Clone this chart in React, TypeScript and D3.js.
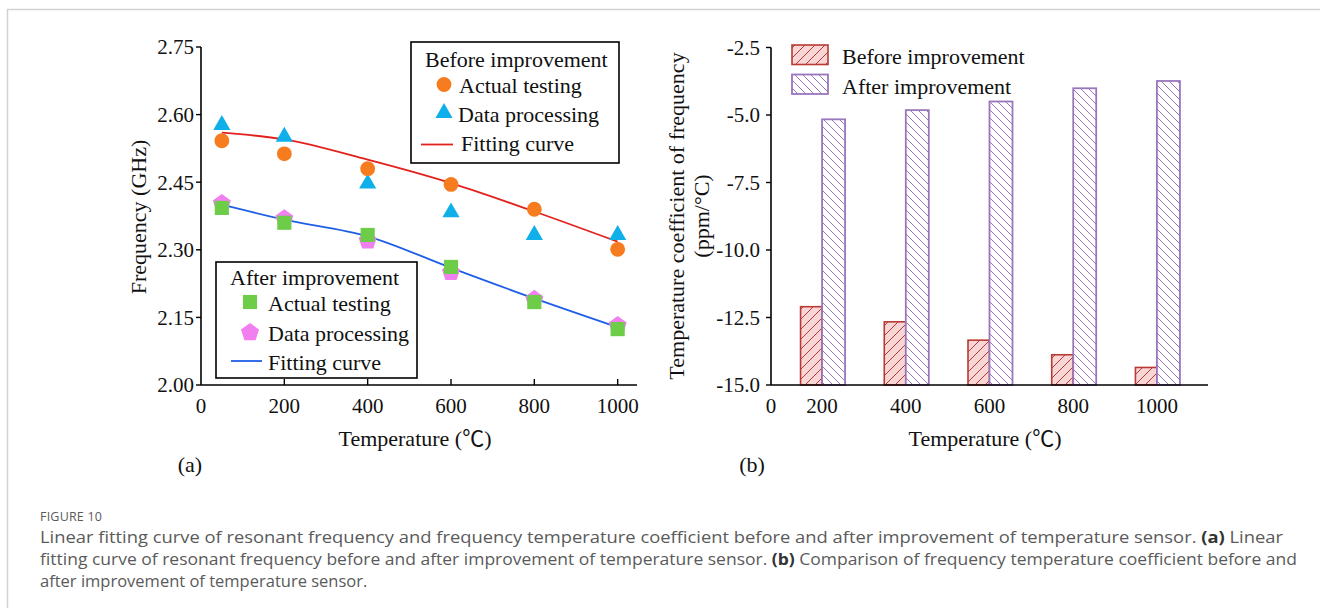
import React from 'react';
import * as d3 from 'd3';

// panel (a): resonant frequency vs temperature
const temps = [50, 200, 400, 600, 800, 1000];
const beforeActual = [2.542, 2.513, 2.48, 2.445, 2.39, 2.301];
const beforeProcessed = [2.577, 2.551, 2.447, 2.383, 2.333, 2.333];
const beforeFit = [2.56, 2.545, 2.5, 2.448, 2.385, 2.318];
const afterActual = [2.393, 2.36, 2.333, 2.262, 2.184, 2.124];
const afterProcessed = [2.403, 2.369, 2.32, 2.25, 2.19, 2.132];
const afterFit = [2.4, 2.367, 2.33, 2.26, 2.192, 2.128];
const freqTicks = [2.0, 2.15, 2.3, 2.45, 2.6, 2.75];
const tempTicks = [0, 200, 400, 600, 800, 1000];

// panel (b): temperature coefficient of frequency
const barTemps = ['200', '400', '600', '800', '1000'];
const tcfBefore = [-12.1, -12.66, -13.34, -13.88, -14.35];
const tcfAfter = [-5.16, -4.82, -4.5, -4.01, -3.74];
const tcfTicks = [-15, -12.5, -10, -7.5, -5, -2.5];

const SERIF = '"Liberation Serif", "Times New Roman", "Noto Sans CJK SC", serif';
const SANS = '"Open Sans", "Noto Sans", sans-serif';

const C = {
  orange: '#f77b1f',
  cyan: '#0fb0ea',
  green: '#6dcc48',
  pink: '#f27ff0',
  red: '#e3211c',
  blue: '#1f5fe8',
  barRed: '#b93a35',
  barRedFill: '#f9d6d6',
  barPurple: '#9a76bd',
};

const circlePath = d3.symbol(d3.symbolCircle, 172)()!;
const trianglePath = d3.symbol(d3.symbolTriangle, 128)()!;
const squarePath = d3.symbol(d3.symbolSquare, 200)()!;
const pentagonPath = (() => {
  const r = 9.5;
  const pts = d3.range(5).map((i) => {
    const a = -Math.PI / 2 + (i * 2 * Math.PI) / 5;
    return [r * Math.cos(a), r * Math.sin(a)] as [number, number];
  });
  return 'M' + pts.map((p) => p.join(',')).join('L') + 'Z';
})();

export default function App() {
  const xA = d3.scaleLinear().domain([0, 1050]).range([201, 638.5]);
  const yA = d3.scaleLinear().domain([2, 2.75]).range([385, 47]);
  const xB = d3.scalePoint<string>().domain(barTemps).range([771, 1208]).padding(0.61);
  const yB = d3.scaleLinear().domain([-15, -2.5]).range([385, 47.5]);

  const fitLine = d3
    .line<number>()
    .x((_, i) => xA(temps[i]))
    .y((d) => yA(d))
    .curve(d3.curveMonotoneX);

  const markers = (vals: number[], path: string, color: string, key: string) =>
    vals.map((v, i) => (
      <path key={key + i} d={path} fill={color} transform={`translate(${xA(temps[i])},${yA(v)})`} />
    ));

  const tick = { fontFamily: SERIF, fontSize: 21, fill: '#111' } as const;
  const lab = { fontFamily: SERIF, fontSize: 22, fill: '#111' } as const;

  return (
    <svg width={1320} height={608} style={{ position: 'absolute', left: 0, top: 0, background: '#fff' }}>
      <defs>
        <pattern id="hatchRed" patternUnits="userSpaceOnUse" width={10} height={10}>
          <rect width={10} height={10} fill={C.barRedFill} />
          <path d="M-2,2 l4,-4 M0,10 l10,-10 M8,12 l4,-4" stroke={C.barRed} strokeWidth={1} />
        </pattern>
        <pattern id="hatchPurple" patternUnits="userSpaceOnUse" width={8} height={8}>
          <rect width={8} height={8} fill="#fff" />
          <path d="M-2,6 l4,4 M0,0 l8,8 M6,-2 l4,4" stroke={C.barPurple} strokeWidth={1} />
        </pattern>
      </defs>

      {/* frame */}
      <path d="M7.5,608 V9.5 H1320" fill="none" stroke="#d2d2d2" strokeWidth={1.5} />

      {/* ---------- panel (a) ---------- */}
      <g>
        <line x1={201} x2={201} y1={47} y2={385} stroke="#000" strokeWidth={1.6} />
        <line x1={201} x2={637} y1={385} y2={385} stroke="#000" strokeWidth={1.6} />
        {freqTicks.map((t) => (
          <g key={'fy' + t}>
            <line x1={196} x2={201} y1={yA(t)} y2={yA(t)} stroke="#000" strokeWidth={1.4} />
            <text x={194} y={yA(t)} dy="0.35em" textAnchor="end" {...tick}>
              {t.toFixed(2)}
            </text>
          </g>
        ))}
        {tempTicks.map((t) => (
          <g key={'fx' + t}>
            {t > 0 && <line x1={xA(t)} x2={xA(t)} y1={385} y2={379} stroke="#000" strokeWidth={1.4} />}
            <text x={xA(t)} y={413} textAnchor="middle" {...tick}>
              {t}
            </text>
          </g>
        ))}
        <text transform="translate(146,217) rotate(-90)" textAnchor="middle" {...lab}>
          Frequency (GHz)
        </text>
        <text x={415} y={446} textAnchor="middle" {...lab}>
          Temperature (℃)
        </text>
        <text x={190} y={472} textAnchor="middle" {...lab}>
          (a)
        </text>

        <path d={fitLine(beforeFit)!} fill="none" stroke={C.red} strokeWidth={1.8} />
        <path d={fitLine(afterFit)!} fill="none" stroke={C.blue} strokeWidth={1.8} />
        {markers(beforeProcessed, trianglePath, C.cyan, 'bp')}
        {markers(beforeActual, circlePath, C.orange, 'ba')}
        {markers(afterProcessed, pentagonPath, C.pink, 'ap')}
        {markers(afterActual, squarePath, C.green, 'aa')}

        {/* legend before */}
        <rect x={411} y={42} width={208} height={121} fill="#fff" stroke="#000" strokeWidth={1.6} />
        <text x={425} y={67} {...lab}>Before improvement</text>
        <path d={circlePath} fill={C.orange} transform="translate(444,84.5)" />
        <text x={459} y={92.5} {...lab}>Actual testing</text>
        <path d={trianglePath} fill={C.cyan} transform="translate(444,113)" />
        <text x={458} y={122} {...lab}>Data processing</text>
        <line x1={421} x2={453} y1={144.5} y2={144.5} stroke={C.red} strokeWidth={1.8} />
        <text x={461} y={151} {...lab}>Fitting curve</text>

        {/* legend after */}
        <rect x={216} y={262} width={201} height={116} fill="#fff" stroke="#000" strokeWidth={1.6} />
        <text x={230} y={285} {...lab}>After improvement</text>
        <path d={squarePath} fill={C.green} transform="translate(250,302)" />
        <text x={268} y={311} {...lab}>Actual testing</text>
        <path d={pentagonPath} fill={C.pink} transform="translate(250,332.5)" />
        <text x={268} y={341} {...lab}>Data processing</text>
        <line x1={231} x2={262} y1={361} y2={361} stroke={C.blue} strokeWidth={1.8} />
        <text x={268} y={370} {...lab}>Fitting curve</text>
      </g>

      {/* ---------- panel (b) ---------- */}
      <g>
        {barTemps.map((c, i) => (
          <g key={'bar' + c}>
            <rect
              x={xB(c)! - 21.5}
              y={yB(tcfBefore[i])}
              width={21.5}
              height={385 - yB(tcfBefore[i])}
              fill="url(#hatchRed)"
              stroke={C.barRed}
              strokeWidth={1.6}
            />
            <rect
              x={xB(c)!}
              y={yB(tcfAfter[i])}
              width={23}
              height={385 - yB(tcfAfter[i])}
              fill="url(#hatchPurple)"
              stroke={C.barPurple}
              strokeWidth={1.8}
            />
          </g>
        ))}
        <line x1={771} x2={771} y1={47.5} y2={385} stroke="#000" strokeWidth={1.6} />
        <line x1={771} x2={1208} y1={385} y2={385} stroke="#000" strokeWidth={1.6} />
        {tcfTicks.map((t) => (
          <g key={'by' + t}>
            <line x1={766} x2={771} y1={yB(t)} y2={yB(t)} stroke="#000" strokeWidth={1.4} />
            <text x={760} y={yB(t)} dy="0.35em" textAnchor="end" {...tick}>
              {t.toFixed(1)}
            </text>
          </g>
        ))}
        <text x={771} y={413} textAnchor="middle" {...tick}>0</text>
        {barTemps.map((c) => (
          <text key={'bx' + c} x={xB(c)} y={413} textAnchor="middle" {...tick}>
            {c}
          </text>
        ))}
        <text transform="translate(684,216) rotate(-90)" textAnchor="middle" {...lab}>
          Temperature coefficient of frequency
        </text>
        <text transform="translate(709,216) rotate(-90)" textAnchor="middle" {...lab}>
          (ppm/°C)
        </text>
        <text x={985} y={446} textAnchor="middle" {...lab}>
          Temperature (℃)
        </text>
        <text x={752} y={472} textAnchor="middle" {...lab}>
          (b)
        </text>

        {/* legend */}
        <rect x={792} y={45} width={36} height={19.5} fill="url(#hatchRed)" stroke={C.barRed} strokeWidth={1.6} />
        <text x={842} y={64} {...lab}>Before improvement</text>
        <rect x={792} y={74.5} width={36} height={19.5} fill="url(#hatchPurple)" stroke={C.barPurple} strokeWidth={1.8} />
        <text x={842} y={93.5} {...lab}>After improvement</text>
      </g>

      {/* ---------- caption ---------- */}
      <g fontFamily={SANS} fill="#5a5a5a">
        <text x={40} y={521} fontSize={12.5} letterSpacing={0.2}>FIGURE 10</text>
        <text x={40} y={543} fontSize={16.5} textLength={1243} lengthAdjust="spacingAndGlyphs">
          Linear fitting curve of resonant frequency and frequency temperature coefficient before and after improvement of temperature sensor.{' '}
          <tspan fontWeight="bold" fill="#333">(a)</tspan> Linear
        </text>
        <text x={40} y={565} fontSize={16.5} textLength={1257} lengthAdjust="spacingAndGlyphs">
          fitting curve of resonant frequency before and after improvement of temperature sensor.{' '}
          <tspan fontWeight="bold" fill="#333">(b)</tspan> Comparison of frequency temperature coefficient before and
        </text>
        <text x={40} y={587} fontSize={16.5}>after improvement of temperature sensor.</text>
      </g>
    </svg>
  );
}
